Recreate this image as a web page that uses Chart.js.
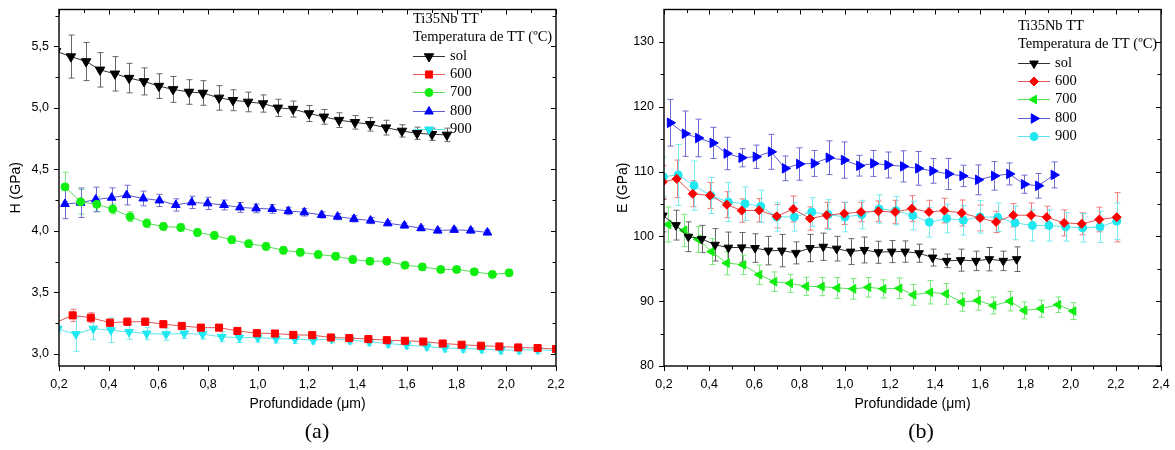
<!DOCTYPE html>
<html lang="pt">
<head>
<meta charset="UTF-8">
<title>Ti35Nb TT - H e E em função da profundidade</title>
<script src="https://cdn.jsdelivr.net/npm/chart.js"></script>
<style>
  body { margin: 0; background: #fff; width: 1175px; height: 450px; position: relative; overflow: hidden; }
  .box { position: absolute; top: 0; height: 420px; }
  #boxA { left: 0; width: 580px; }
  #boxB { left: 590px; width: 585px; }
  .lbl { position: absolute; top: 418px; font-family: "Liberation Serif", "Times New Roman", serif; font-size: 22px; transform: translateX(-50%); }
</style>
</head>
<body>
  <div class="box" id="boxA"><canvas id="chartA"></canvas></div>
  <div class="box" id="boxB"><canvas id="chartB"></canvas></div>
  <div class="lbl" style="left:317px">(a)</div>
  <div class="lbl" style="left:921px">(b)</div>

<script>
// ---- ticks ----
const xTicksA = [0.2, 0.4, 0.6, 0.8, 1.0, 1.2, 1.4, 1.6, 1.8, 2.0, 2.2];
const yTicksA = [3.0, 3.5, 4.0, 4.5, 5.0, 5.5];
const xTicksB = [0.2, 0.4, 0.6, 0.8, 1.0, 1.2, 1.4, 1.6, 1.8, 2.0, 2.2, 2.4];
const yTicksB = [80, 90, 100, 110, 120, 130];

const legendHead = ['Ti35Nb TT', 'Temperatura de TT (ºC)'];
const labels = ['sol', '600', '700', '800', '900'];

// ---- (a) dureza H (GPa) ----
const solA_x = [0.188, 0.248, 0.309, 0.365, 0.425, 0.482, 0.542, 0.602, 0.659, 0.723, 0.779, 0.844, 0.900, 0.961, 1.021, 1.081, 1.142, 1.206, 1.266, 1.327, 1.391, 1.452, 1.516, 1.580, 1.641, 1.701, 1.761];
const solA_y = [5.46, 5.417, 5.377, 5.309, 5.277, 5.242, 5.215, 5.177, 5.15, 5.129, 5.121, 5.081, 5.062, 5.048, 5.035, 5.0, 4.99, 4.954, 4.927, 4.9, 4.882, 4.866, 4.839, 4.812, 4.793, 4.785, 4.78];
const solA_e = [0.18, 0.175, 0.155, 0.14, 0.14, 0.12, 0.11, 0.1, 0.105, 0.1, 0.1, 0.1, 0.085, 0.08, 0.07, 0.07, 0.065, 0.065, 0.06, 0.06, 0.055, 0.055, 0.06, 0.05, 0.05, 0.05, 0.055];

const a600_x = [0.183, 0.255, 0.328, 0.405, 0.475, 0.547, 0.62, 0.694, 0.771, 0.844, 0.918, 0.996, 1.069, 1.143, 1.219, 1.294, 1.368, 1.445, 1.519, 1.592, 1.666, 1.744, 1.82, 1.898, 1.972, 2.048, 2.126, 2.2];
const a600_y = [3.25, 3.312, 3.293, 3.252, 3.26, 3.26, 3.24, 3.226, 3.212, 3.212, 3.185, 3.167, 3.164, 3.153, 3.151, 3.132, 3.127, 3.119, 3.11, 3.105, 3.099, 3.083, 3.073, 3.065, 3.059, 3.051, 3.046, 3.038];
const a600_e = [0.04, 0.05, 0.04, 0.03, 0.03, 0.03, 0.025, 0.025, 0.02, 0.02, 0.02, 0.02, 0.02, 0.02, 0.02, 0.02, 0.02, 0.02, 0.02, 0.02, 0.02, 0.02, 0.02, 0.02, 0.02, 0.02, 0.02, 0.02];

const a700_x = [0.224, 0.287, 0.352, 0.416, 0.486, 0.553, 0.62, 0.69, 0.757, 0.825, 0.895, 0.963, 1.033, 1.103, 1.171, 1.243, 1.313, 1.382, 1.451, 1.519, 1.592, 1.662, 1.736, 1.8, 1.871, 1.944, 2.011];
const a700_y = [4.357, 4.236, 4.215, 4.177, 4.115, 4.061, 4.035, 4.027, 3.986, 3.962, 3.927, 3.895, 3.873, 3.841, 3.825, 3.806, 3.793, 3.766, 3.752, 3.752, 3.72, 3.706, 3.685, 3.685, 3.666, 3.645, 3.658];
const a700_e = [0.12, 0.1, 0.06, 0.04, 0.04, 0.035, 0.03, 0.03, 0.03, 0.03, 0.03, 0.03, 0.03, 0.03, 0.03, 0.03, 0.03, 0.03, 0.025, 0.025, 0.025, 0.025, 0.025, 0.025, 0.025, 0.025, 0.025];

const a800_x = [0.224, 0.287, 0.348, 0.412, 0.472, 0.539, 0.604, 0.67, 0.734, 0.798, 0.864, 0.928, 0.993, 1.058, 1.123, 1.187, 1.257, 1.321, 1.387, 1.454, 1.523, 1.59, 1.657, 1.724, 1.79, 1.857, 1.924];
const a800_y = [4.218, 4.228, 4.255, 4.269, 4.29, 4.263, 4.247, 4.21, 4.231, 4.223, 4.21, 4.19, 4.182, 4.177, 4.161, 4.15, 4.129, 4.115, 4.097, 4.083, 4.061, 4.043, 4.021, 4.002, 4.008, 4.002, 3.986];
const a800_e = [0.12, 0.12, 0.1, 0.08, 0.08, 0.06, 0.05, 0.05, 0.05, 0.05, 0.04, 0.04, 0.035, 0.035, 0.03, 0.03, 0.025, 0.025, 0.025, 0.025, 0.02, 0.02, 0.02, 0.02, 0.02, 0.02, 0.02];

const a900_x = [0.195, 0.268, 0.338, 0.409, 0.482, 0.553, 0.631, 0.704, 0.778, 0.855, 0.926, 1.0, 1.073, 1.15, 1.223, 1.297, 1.371, 1.449, 1.525, 1.599, 1.68, 1.753, 1.827, 1.901, 1.978, 2.052, 2.126, 2.2];
const a900_y = [3.2, 3.159, 3.204, 3.191, 3.177, 3.164, 3.159, 3.164, 3.159, 3.137, 3.131, 3.131, 3.123, 3.119, 3.11, 3.119, 3.11, 3.097, 3.083, 3.07, 3.059, 3.046, 3.043, 3.038, 3.03, 3.03, 3.032, 3.024];
const a900_e = [0.03, 0.14, 0.09, 0.1, 0.06, 0.05, 0.05, 0.04, 0.04, 0.04, 0.04, 0.035, 0.035, 0.035, 0.03, 0.03, 0.03, 0.03, 0.03, 0.03, 0.03, 0.03, 0.03, 0.03, 0.03, 0.03, 0.03, 0.03];

// ---- (b) módulo E (GPa) ----
const solB_x = [0.195, 0.253, 0.308, 0.367, 0.426, 0.485, 0.544, 0.603, 0.662, 0.722, 0.784, 0.846, 0.905, 0.964, 1.026, 1.087, 1.149, 1.208, 1.267, 1.329, 1.389, 1.451, 1.513, 1.581, 1.64, 1.702, 1.761];
const solB_y = [103.2, 101.73, 99.94, 99.6, 98.7, 98.26, 98.3, 98.2, 97.8, 97.8, 97.45, 98.2, 98.4, 98.1, 97.65, 97.9, 97.55, 97.65, 97.65, 97.4, 96.73, 96.22, 96.33, 96.22, 96.48, 96.22, 96.48];
const solB_e = [2.5, 2.3, 2.3, 2.1, 2.5, 2.4, 2.3, 2.2, 2.2, 2.5, 1.7, 2.1, 2.1, 1.9, 2.0, 2.0, 1.7, 1.7, 1.65, 1.4, 1.3, 1.05, 1.7, 1.5, 1.8, 1.5, 1.9];

const b600_x = [0.195, 0.256, 0.327, 0.404, 0.478, 0.544, 0.621, 0.699, 0.772, 0.846, 0.92, 0.998, 1.072, 1.149, 1.223, 1.297, 1.373, 1.441, 1.518, 1.599, 1.67, 1.746, 1.825, 1.894, 1.971, 2.049, 2.127, 2.204];
const b600_y = [108.4, 108.87, 106.57, 106.31, 104.89, 103.98, 104.02, 103.1, 104.22, 102.75, 103.26, 103.52, 103.76, 103.87, 103.76, 104.28, 103.76, 103.98, 103.61, 102.84, 102.23, 103.26, 103.26, 102.95, 102.08, 101.93, 102.6, 102.95];
const b600_e = [2.5, 2.9, 2.0, 2.0, 2.0, 1.8, 1.8, 1.8, 2.0, 1.8, 2.0, 1.7, 1.5, 1.6, 1.8, 2.0, 1.8, 1.9, 2.0, 2.0, 1.65, 1.8, 1.9, 1.7, 2.0, 1.7, 1.9, 3.8];

const b700_x = [0.219, 0.29, 0.352, 0.411, 0.478, 0.551, 0.622, 0.688, 0.758, 0.829, 0.898, 0.967, 1.038, 1.104, 1.171, 1.242, 1.304, 1.378, 1.448, 1.518, 1.589, 1.658, 1.732, 1.795, 1.869, 1.945, 2.012];
const b700_y = [101.83, 100.92, 99.54, 97.65, 95.87, 95.61, 94.08, 93.01, 92.75, 92.29, 92.25, 92.05, 91.9, 92.14, 91.9, 91.99, 90.98, 91.38, 91.13, 89.85, 90.11, 89.34, 90.0, 88.58, 88.84, 89.45, 88.47];
const b700_e = [2.7, 2.5, 2.0, 2.0, 1.8, 1.5, 1.5, 1.5, 1.4, 1.4, 1.4, 1.6, 1.6, 1.5, 1.4, 1.6, 1.6, 1.8, 1.6, 1.4, 1.5, 1.3, 1.5, 1.3, 1.3, 1.2, 1.3];

const b800_x = [0.227, 0.293, 0.352, 0.416, 0.478, 0.544, 0.607, 0.674, 0.736, 0.799, 0.864, 0.93, 0.997, 1.065, 1.127, 1.19, 1.259, 1.326, 1.389, 1.459, 1.522, 1.591, 1.662, 1.729, 1.794, 1.857, 1.926];
const b800_y = [117.52, 115.84, 115.18, 114.42, 112.78, 112.13, 112.28, 113.04, 110.49, 111.16, 111.25, 112.13, 111.77, 110.9, 111.25, 111.01, 110.8, 110.49, 110.1, 109.63, 109.33, 108.72, 109.33, 109.63, 108.05, 107.8, 109.48];
const b800_e = [3.6, 3.5, 2.9, 2.4, 2.5, 1.4, 1.8, 2.7, 1.9, 2.5, 2.0, 2.6, 2.8, 1.6, 2.0, 2.0, 2.4, 2.6, 1.9, 2.4, 1.65, 2.3, 2.2, 1.7, 1.4, 1.9, 2.0];

const b900_x = [0.197, 0.263, 0.333, 0.407, 0.485, 0.559, 0.628, 0.699, 0.777, 0.854, 0.927, 1.001, 1.075, 1.152, 1.227, 1.301, 1.374, 1.451, 1.525, 1.599, 1.677, 1.754, 1.831, 1.904, 1.978, 2.053, 2.13, 2.204];
const b900_y = [109.2, 109.48, 107.84, 106.31, 105.29, 105.04, 104.63, 103.0, 103.0, 103.76, 103.36, 103.0, 103.36, 104.22, 103.98, 103.21, 102.19, 102.75, 102.49, 103.0, 102.95, 102.08, 101.68, 101.68, 101.47, 101.31, 101.47, 102.34];
const b900_e = [3.0, 4.7, 3.8, 2.8, 3.0, 2.6, 2.5, 2.2, 2.2, 2.2, 2.3, 2.3, 2.2, 2.2, 2.2, 2.2, 2.3, 2.2, 2.3, 2.5, 2.2, 2.6, 2.4, 2.4, 2.2, 2.2, 2.4, 2.8];

// ---- estilos ----
const black = { color: '#000000', line: '#333333', err: '#666666' };
const red   = { color: '#ff0000', line: '#e25555', err: '#ee7a7a' };
const green = { color: '#10ee10', line: '#55dd55', err: '#7ae87a' };
const blue  = { color: '#0000ff', line: '#5a5ad6', err: '#6e6ed2' };
const cyan  = { color: '#1fe8f0', line: '#5ae6ee', err: '#74eaf0' };

Chart.defaults.font.family = 'Arial, "Liberation Sans", sans-serif';
Chart.defaults.color = '#000';

const fmt1 = v => Number(v).toFixed(1).replace('.', ',');

function ds(label, xs, ys, es, c, shape, rot, r) {
  return {
    label: label,
    data: xs.map((x, i) => ({ x: x, y: ys[i] })),
    err: es,
    errColor: c.err,
    showLine: true,
    borderColor: c.line,
    borderWidth: 1,
    pointStyle: shape,
    rotation: rot,
    pointRadius: r,
    pointHoverRadius: r,
    pointBackgroundColor: c.color,
    pointBorderColor: c.color,
    pointBorderWidth: 1,
    tension: 0,
    clip: 0
  };
}

// barras de erro
const errorBars = {
  id: 'errorBars',
  beforeDatasetsDraw(chart) {
    const { ctx, chartArea: ca, scales: { x, y } } = chart;
    ctx.save();
    ctx.beginPath();
    ctx.rect(ca.left, ca.top, ca.right - ca.left, ca.bottom - ca.top);
    ctx.clip();
    ctx.lineWidth = 1;
    chart.data.datasets.forEach(d => {
      ctx.strokeStyle = d.errColor;
      ctx.beginPath();
      d.data.forEach((p, i) => {
        const px = Math.round(x.getPixelForValue(p.x)) + 0.5;
        const t = y.getPixelForValue(p.y + d.err[i]);
        const b = y.getPixelForValue(p.y - d.err[i]);
        ctx.moveTo(px, t); ctx.lineTo(px, b);
        ctx.moveTo(px - 3, t); ctx.lineTo(px + 3, t);
        ctx.moveTo(px - 3, b); ctx.lineTo(px + 3, b);
      });
      ctx.stroke();
    });
    ctx.restore();
  }
};

// moldura com marcas (estilo Origin)
const frame = {
  id: 'frame',
  afterDatasetsDraw(chart) {
    const { ctx, chartArea: ca, scales: { x, y } } = chart;
    const minors = s => {
      const v = s.ticks.map(t => t.value);
      const h = (v[1] - v[0]) / 2;
      const out = [];
      [v[0] - h].concat(v.map(a => a + h)).forEach(m => { if (m > s.min + 1e-9 && m < s.max - 1e-9) out.push(m); });
      return out;
    };
    ctx.save();
    ctx.strokeStyle = '#000';
    ctx.lineWidth = 1;
    ctx.beginPath();
    const tickX = (vals, len) => vals.forEach(v => {
      const px = Math.round(x.getPixelForValue(v)) + 0.5;
      ctx.moveTo(px, ca.bottom); ctx.lineTo(px, ca.bottom + len);
      ctx.moveTo(px, ca.top); ctx.lineTo(px, ca.top + len);
    });
    const tickY = (vals, len) => vals.forEach(v => {
      const py = Math.round(y.getPixelForValue(v)) + 0.5;
      ctx.moveTo(ca.left - len, py); ctx.lineTo(ca.left, py);
      ctx.moveTo(ca.right - len, py); ctx.lineTo(ca.right, py);
    });
    tickX(x.ticks.map(t => t.value), 5);
    tickX(minors(x), 3.5);
    tickY(y.ticks.map(t => t.value), 5);
    tickY(minors(y), 3.5);
    ctx.stroke();
    ctx.lineWidth = 1.4;
    ctx.strokeRect(ca.left, ca.top, ca.right - ca.left, ca.bottom - ca.top);
    ctx.restore();
  }
};

// legenda dentro do gráfico
const boxLegend = {
  id: 'boxLegend',
  afterDraw(chart, args, opts) {
    const { ctx, chartArea: ca } = chart;
    const x0 = ca.right - 143;
    const row = 18.3;
    ctx.save();
    ctx.font = '14.5px "Liberation Serif", "Times New Roman", serif';
    ctx.textBaseline = 'middle';
    ctx.textAlign = 'left';
    ctx.fillStyle = '#000';
    legendHead.forEach((t, i) => ctx.fillText(t, x0, opts.top + i * row));
    chart.data.datasets.forEach((d, i) => {
      const yy = Math.round(opts.top + (i + 2) * row) + 0.5;
      ctx.strokeStyle = d.borderColor;
      ctx.lineWidth = 1;
      ctx.beginPath(); ctx.moveTo(x0, yy); ctx.lineTo(x0 + 32, yy); ctx.stroke();
      ctx.fillStyle = d.pointBackgroundColor;
      ctx.strokeStyle = d.pointBorderColor;
      Chart.helpers.drawPoint(ctx, { pointStyle: d.pointStyle, rotation: d.rotation, radius: d.pointRadius, borderWidth: 1 }, x0 + 16, yy);
      ctx.fillStyle = '#000';
      ctx.fillText(d.label, x0 + 37, yy);
    });
    ctx.restore();
  }
};

function makeChart(id, datasets, o) {
  return new Chart(document.getElementById(id), {
    type: 'scatter',
    data: { datasets: datasets },
    plugins: [errorBars, frame, boxLegend],
    options: {
      responsive: true,
      maintainAspectRatio: false,
      animation: false,
      layout: { padding: { top: 7, right: o.padRight, left: 0, bottom: 0 } },
      plugins: { legend: { display: false }, tooltip: { enabled: false }, boxLegend: { top: o.legendTop } },
      scales: {
        x: {
          type: 'linear', min: o.xMin, max: o.xMax,
          grid: { display: false }, border: { display: false },
          afterBuildTicks: s => { s.ticks = o.xTicks.map(v => ({ value: v })); },
          afterFit: s => { s.height = 54; },
          ticks: { padding: 3, maxRotation: 0, autoSkip: false, font: { size: 12.5 }, callback: v => fmt1(v) },
          title: { display: true, text: 'Profundidade (\u03bcm)', font: { size: 14 }, padding: { top: 0, bottom: 7 } }
        },
        y: {
          type: 'linear', min: o.yMin, max: o.yMax,
          grid: { display: false }, border: { display: false },
          afterBuildTicks: s => { s.ticks = o.yTicks.map(v => ({ value: v })); },
          afterFit: s => { s.width = o.yWidth; },
          ticks: { padding: 2, autoSkip: false, font: { size: 12.5 }, callback: o.yFmt },
          title: { display: true, text: o.yTitle, font: { size: 14 }, padding: { top: o.yTitlePad, bottom: 0 } }
        }
      }
    }
  });
}

makeChart('chartA', [
  ds(labels[0], solA_x, solA_y, solA_e, black, 'triangle', 180, 5.5),
  ds(labels[1], a600_x, a600_y, a600_e, red, 'rect', 0, 5),
  ds(labels[2], a700_x, a700_y, a700_e, green, 'circle', 0, 4),
  ds(labels[3], a800_x, a800_y, a800_e, blue, 'triangle', 0, 5),
  ds(labels[4], a900_x, a900_y, a900_e, cyan, 'triangle', 180, 5)
], { xMin: 0.2, xMax: 2.2, yMin: 2.9, yMax: 5.8, xTicks: xTicksA, yTicks: yTicksA,
     yFmt: v => fmt1(v), yWidth: 59, yTitle: 'H (GPa)', yTitlePad: 8, padRight: 24, legendTop: 19 });

makeChart('chartB', [
  ds(labels[0], solB_x, solB_y, solB_e, black, 'triangle', 180, 5),
  ds(labels[1], b600_x, b600_y, b600_e, red, 'rectRot', 0, 4.5),
  ds(labels[2], b700_x, b700_y, b700_e, green, 'triangle', -90, 5),
  ds(labels[3], b800_x, b800_y, b800_e, blue, 'triangle', 90, 5.5),
  ds(labels[4], b900_x, b900_y, b900_e, cyan, 'circle', 0, 4)
], { xMin: 0.2, xMax: 2.4, yMin: 80, yMax: 135, xTicks: xTicksB, yTicks: yTicksB,
     yFmt: v => String(v), yWidth: 74, yTitle: 'E (GPa)', yTitlePad: 25, padRight: 14, legendTop: 26 });
</script>
</body>
</html>
